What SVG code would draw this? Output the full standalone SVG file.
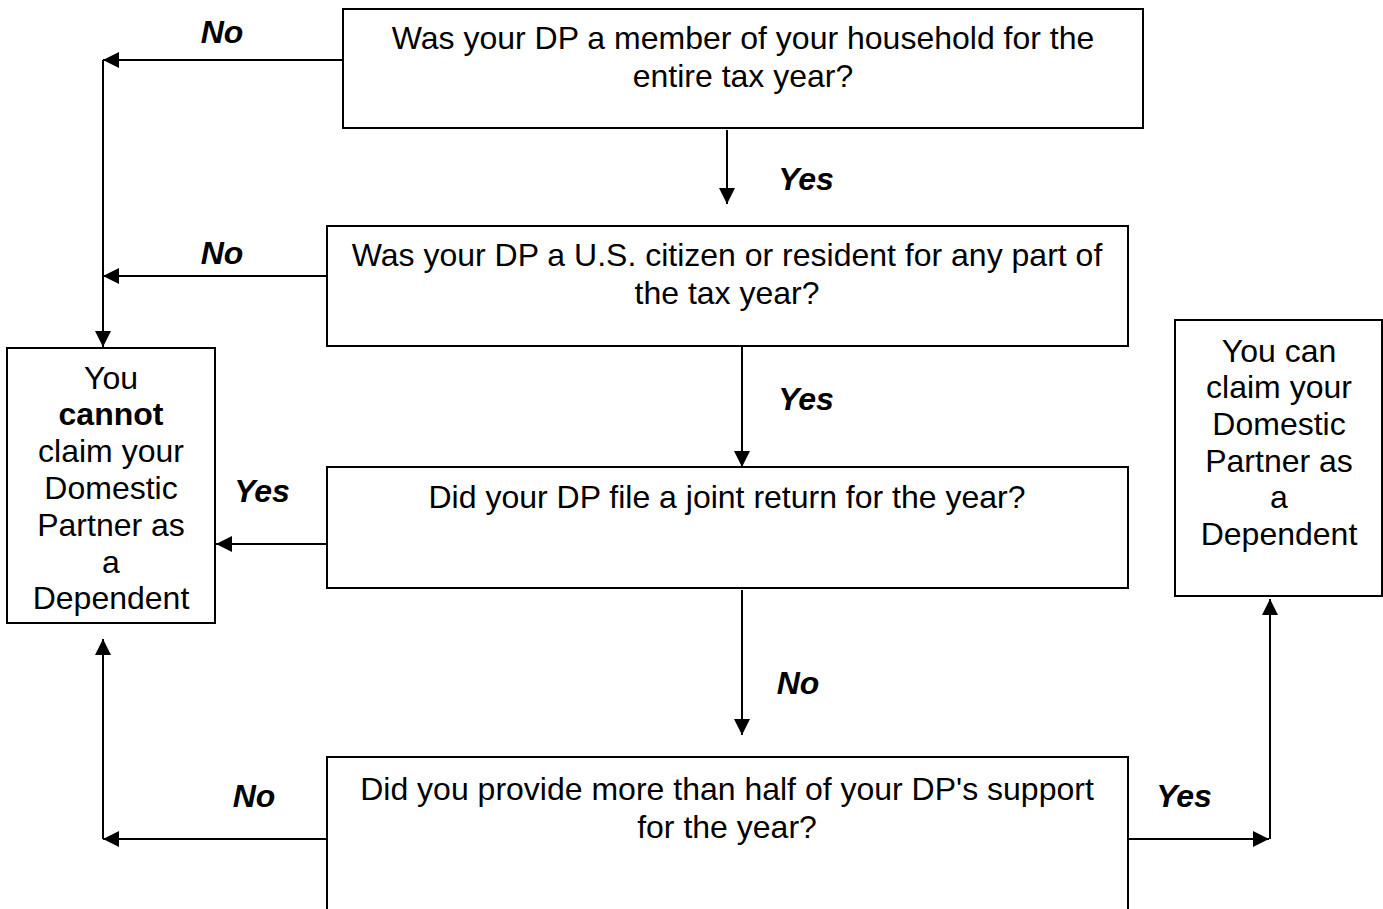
<svg xmlns="http://www.w3.org/2000/svg" width="1383" height="909" viewBox="0 0 1383 909">
<style>
.box{fill:#fff;stroke:#000;stroke-width:2}
.t{font-family:"Liberation Sans",Arial,sans-serif;font-size:32px;fill:#000;text-anchor:middle}
.lbl{font-family:"Liberation Sans",Arial,sans-serif;font-size:32px;font-weight:bold;font-style:italic;fill:#000;text-anchor:middle}
.c{fill:none;stroke:#000;stroke-width:2}
</style>
<defs>
<marker id="ah" markerUnits="userSpaceOnUse" markerWidth="18" markerHeight="18" refX="16" refY="8" orient="auto">
<path d="M0,0 L16,8 L0,16 Z" fill="#000"/>
</marker>
</defs>
<rect width="1383" height="909" fill="#fff"/>
<g id="connectors">
<path class="c" d="M343,60 H103" marker-end="url(#ah)"/>
<path class="c" d="M103,60 V347" marker-end="url(#ah)"/>
<path class="c" d="M327,276 H103" marker-end="url(#ah)"/>
<path class="c" d="M327,544 H216" marker-end="url(#ah)"/>
<path class="c" d="M327,839 H103" marker-end="url(#ah)"/>
<path class="c" d="M103,839 V639" marker-end="url(#ah)"/>
<path class="c" d="M727,130 V204" marker-end="url(#ah)"/>
<path class="c" d="M742,347 V467" marker-end="url(#ah)"/>
<path class="c" d="M742,590 V735" marker-end="url(#ah)"/>
<path class="c" d="M1128,839 H1269" marker-end="url(#ah)"/>
<path class="c" d="M1270,839 V599" marker-end="url(#ah)"/>
</g>
<g id="labels">
<text class="lbl" x="222" y="43">No</text>
<text class="lbl" x="806" y="190">Yes</text>
<text class="lbl" x="222" y="264">No</text>
<text class="lbl" x="806" y="410">Yes</text>
<text class="lbl" x="262" y="502">Yes</text>
<text class="lbl" x="798" y="694">No</text>
<text class="lbl" x="254" y="807">No</text>
<text class="lbl" x="1184" y="807">Yes</text>
</g>
<g id="q1">
<rect class="box" x="343" y="9" width="800" height="119"/>
<text class="t" x="743" y="49">Was your DP a member of your household for the</text>
<text class="t" x="743" y="87">entire tax year?</text>
</g>
<g id="q2">
<rect class="box" x="327" y="226" width="801" height="120"/>
<text class="t" x="727" y="266">Was your DP a U.S. citizen or resident for any part of</text>
<text class="t" x="727" y="304">the tax year?</text>
</g>
<g id="q3">
<rect class="box" x="327" y="467" width="801" height="121"/>
<text class="t" x="727" y="508">Did your DP file a joint return for the year?</text>
</g>
<g id="q4">
<rect class="box" x="327" y="757" width="801" height="170"/>
<text class="t" x="727" y="800">Did you provide more than half of your DP's support</text>
<text class="t" x="727" y="838">for the year?</text>
</g>
<g id="cannot">
<rect class="box" x="7" y="348" width="208" height="275"/>
<text class="t" x="111" y="389">You</text>
<text class="t" x="111" y="425" font-weight="bold">cannot</text>
<text class="t" x="111" y="462">claim your</text>
<text class="t" x="111" y="499">Domestic</text>
<text class="t" x="111" y="536">Partner as</text>
<text class="t" x="111" y="573">a</text>
<text class="t" x="111" y="609">Dependent</text>
</g>
<g id="can">
<rect class="box" x="1175" y="320" width="207" height="276"/>
<text class="t" x="1279" y="362">You can</text>
<text class="t" x="1279" y="398">claim your</text>
<text class="t" x="1279" y="435">Domestic</text>
<text class="t" x="1279" y="472">Partner as</text>
<text class="t" x="1279" y="508">a</text>
<text class="t" x="1279" y="545">Dependent</text>
</g>
</svg>
